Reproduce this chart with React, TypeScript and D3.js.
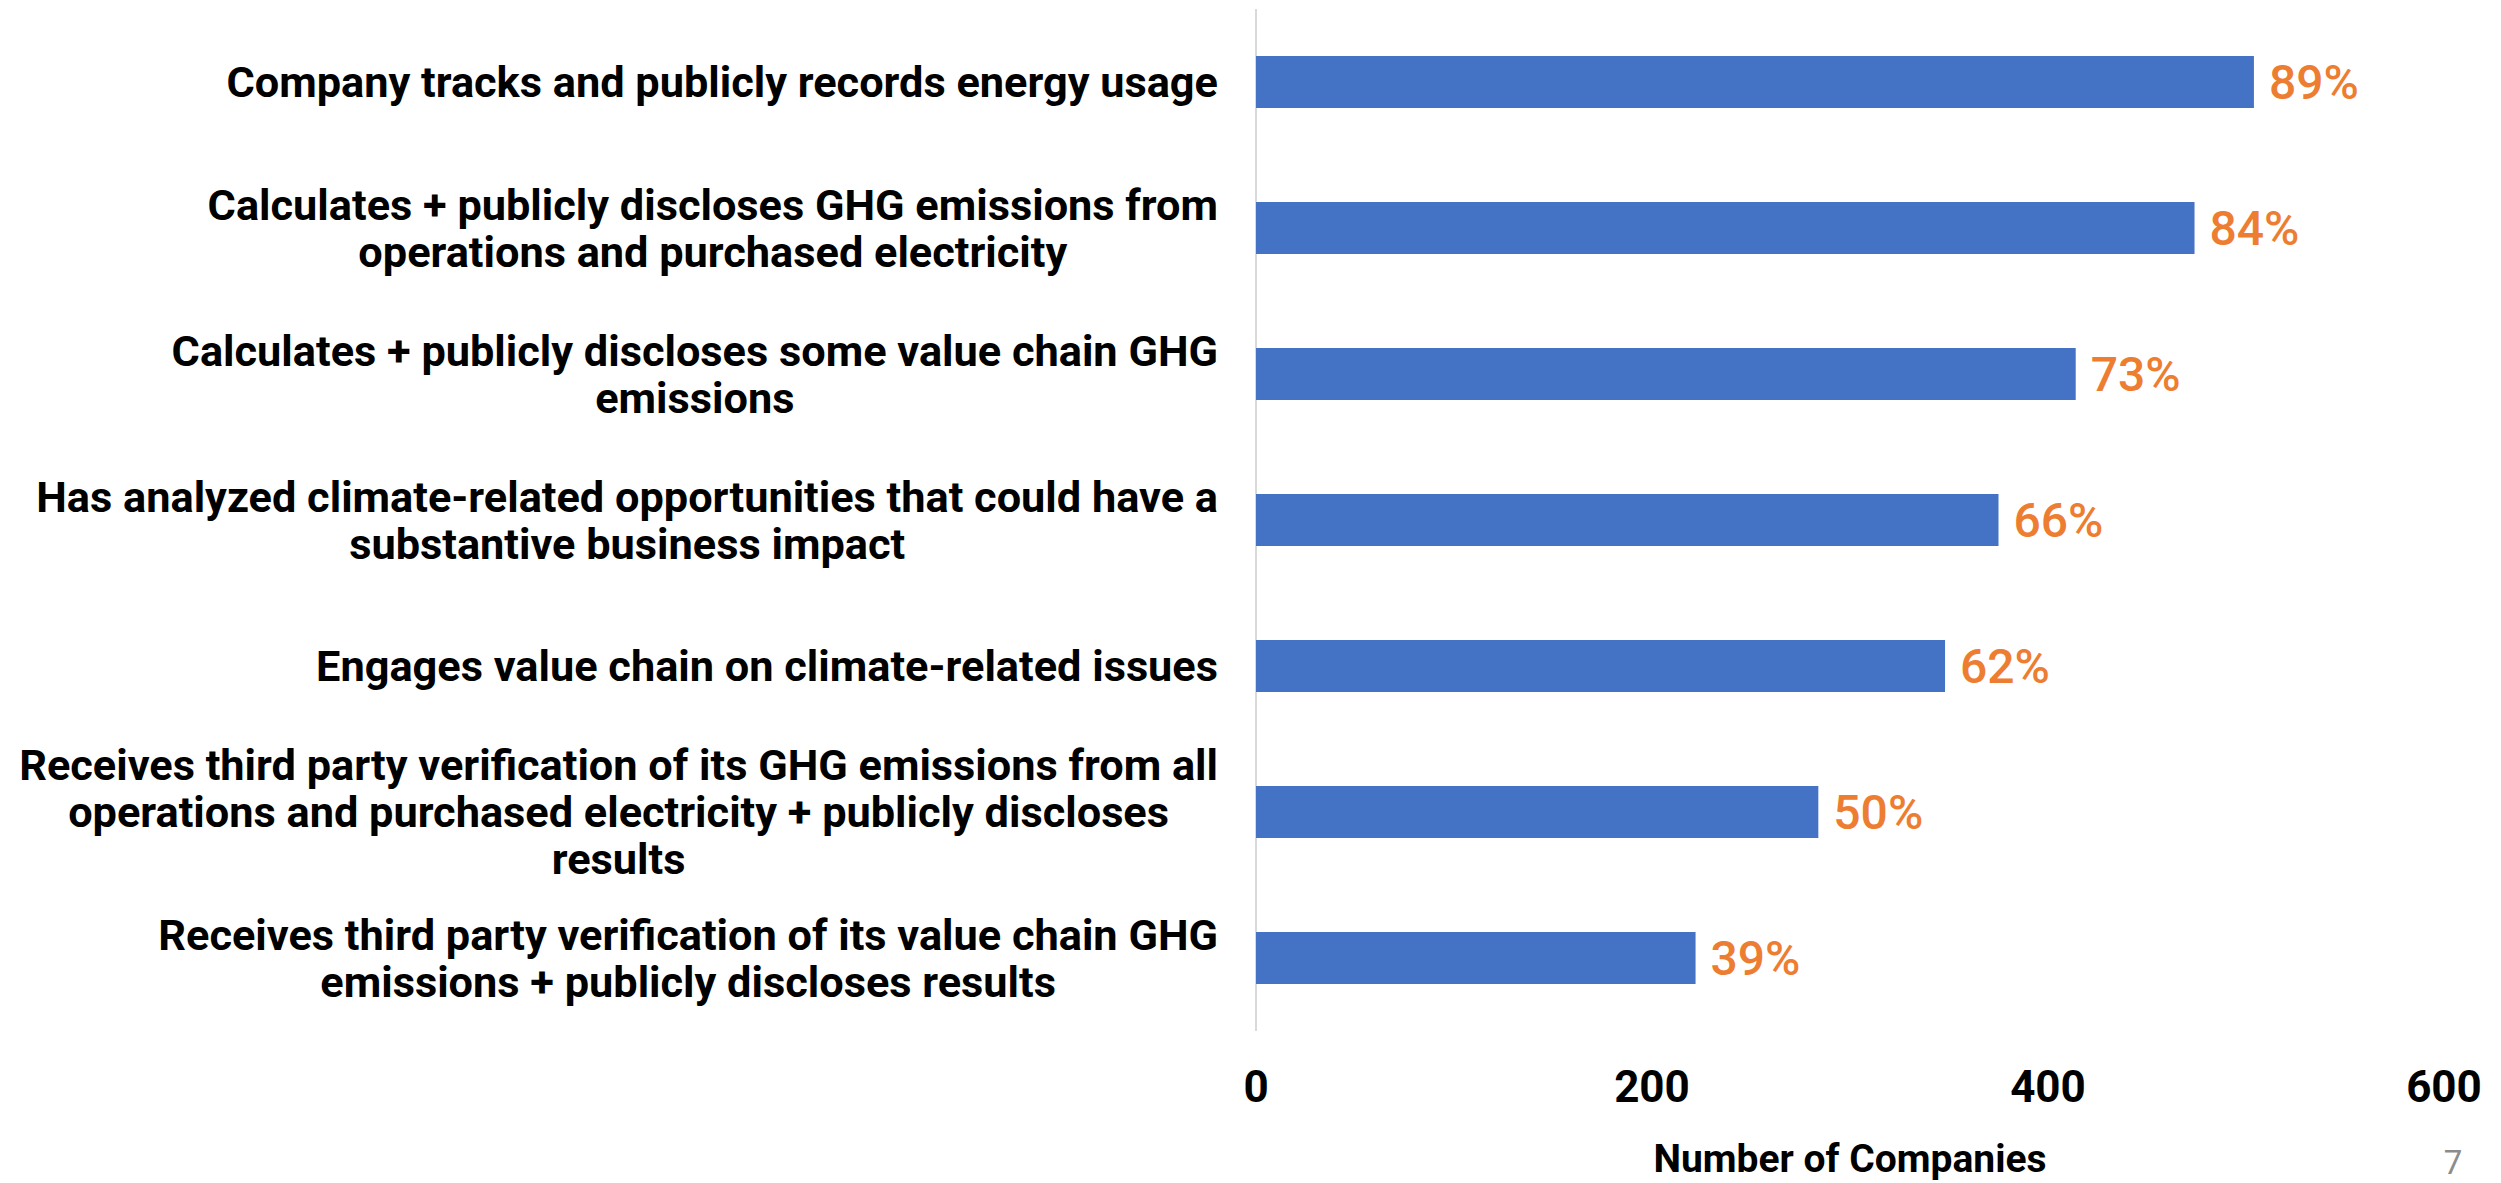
import React, { useEffect, useRef } from 'react'
import * as d3 from 'd3'

// categories, already broken into lines like the source slide
const categories: string[][] = [
  ['Company tracks and publicly records energy usage'],
  ['Calculates + publicly discloses GHG emissions from', 'operations and purchased electricity'],
  ['Calculates + publicly discloses some value chain GHG', 'emissions'],
  ['Has analyzed climate-related opportunities that could have a', 'substantive business impact'],
  ['Engages value chain on climate-related issues'],
  ['Receives third party verification of its GHG emissions from all', 'operations and purchased electricity + publicly discloses', 'results'],
  ['Receives third party verification of its value chain GHG', 'emissions + publicly discloses results'],
]
const companies = [504, 474, 414, 375, 348, 284, 222]
const percentLabels = ['89%', '84%', '73%', '66%', '62%', '50%', '39%']
const xTicks = [0, 200, 400, 600]
const axisTitle = 'Number of Companies'
const pageNumber = '7'

const W = 2501
const H = 1183

export default function App() {
  const ref = useRef<SVGSVGElement>(null)

  useEffect(() => {
    const svg = d3.select(ref.current)
    svg.selectAll('*').remove()

    const x = d3.scaleLinear().domain([0, 600]).range([1256, 2444])
    const y = d3.scaleBand<number>()
      .domain(d3.range(categories.length))
      .range([9, 1031])
      .paddingInner(0.644)
      .paddingOuter(0.322)

    const font = 'Roboto, "Liberation Sans", sans-serif'

    // vertical axis line
    svg.append('line')
      .attr('x1', x(0)).attr('x2', x(0))
      .attr('y1', 9).attr('y2', 1031)
      .attr('stroke', '#d9d9d9')
      .attr('stroke-width', 2)

    // bars
    svg.selectAll('rect.bar')
      .data(companies)
      .enter().append('rect')
      .attr('class', 'bar')
      .attr('x', x(0))
      .attr('y', (d, i) => y(i)!)
      .attr('width', d => x(d) - x(0))
      .attr('height', y.bandwidth())
      .attr('fill', '#4472c4')

    // percent labels
    svg.selectAll('text.pct')
      .data(companies)
      .enter().append('text')
      .attr('class', 'pct')
      .attr('x', d => x(d) + 15)
      .attr('y', (d, i) => y(i)! + y.bandwidth() / 2)
      .attr('dy', '0.35em')
      .attr('font-family', font)
      .attr('font-size', 48)
      .attr('font-weight', 500)
      .attr('fill', '#ed7d31')
      .text((d, i) => percentLabels[i])

    // category labels: lines centred on each other, block right aligned
    const labelRight = 1218
    const lineH = 47
    categories.forEach((lines, i) => {
      const g = svg.append('g')
      const cy = y(i)! + y.bandwidth() / 2
      const texts = lines.map((line, j) =>
        g.append('text')
          .attr('y', cy + (j - (lines.length - 1) / 2) * lineH)
          .attr('dy', '0.35em')
          .attr('text-anchor', 'middle')
          .attr('font-family', font)
          .attr('font-size', 43.3)
          .attr('font-weight', 700)
          .attr('fill', '#000')
          .text(line)
      )
      const maxW = d3.max(texts, t => (t.node() as SVGTextElement).getComputedTextLength()) || 0
      texts.forEach(t => t.attr('x', labelRight - maxW / 2))
    })

    // x tick labels
    svg.selectAll('text.tick')
      .data(xTicks)
      .enter().append('text')
      .attr('class', 'tick')
      .attr('x', d => x(d))
      .attr('y', 1102)
      .attr('text-anchor', 'middle')
      .attr('font-family', font)
      .attr('font-size', 44)
      .attr('font-weight', 700)
      .text(d => d)

    svg.append('text')
      .attr('x', 1850)
      .attr('y', 1172)
      .attr('text-anchor', 'middle')
      .attr('font-family', font)
      .attr('font-size', 39)
      .attr('font-weight', 700)
      .text(axisTitle)

    svg.append('text')
      .attr('x', 2453)
      .attr('y', 1174)
      .attr('text-anchor', 'middle')
      .attr('font-family', font)
      .attr('font-size', 33)
      .attr('fill', '#8c8c8c')
      .text(pageNumber)
  }, [])

  return (
    <svg ref={ref} width={W} height={H}
      style={{ position: 'absolute', left: 0, top: 0, background: '#fff' }} />
  )
}
